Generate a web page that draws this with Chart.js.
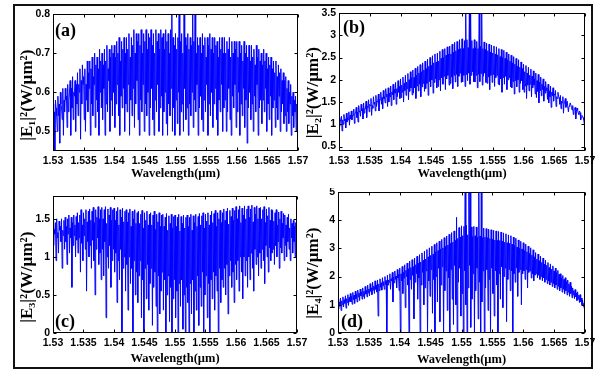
<!DOCTYPE html>
<html>
<head>
<meta charset="utf-8">
<script src="https://cdn.jsdelivr.net/npm/chart.js@4.4.1/dist/chart.umd.min.js"></script>
<style>
  html, body { margin: 0; padding: 0; background: #fff; }
  body { width: 598px; height: 370px; position: relative; overflow: hidden; }
  #frame { position: absolute; left: 13px; top: 4px; width: 576px; height: 361px; border: 2px solid #111; }
  canvas { position: absolute; }
</style>
</head>
<body>
<div id="frame"></div>
<canvas id="pa" width="300" height="180" style="left:15px;top:6px"></canvas>
<canvas id="pb" width="297" height="180" style="left:301px;top:6px"></canvas>
<canvas id="pc" width="300" height="182" style="left:15px;top:188px"></canvas>
<canvas id="pd" width="297" height="182" style="left:301px;top:188px"></canvas>
<script>
// ── DATA ──────────────────────────────────────────────────────
// wavelength grid: a peak every 0.0002 um, a dip half way between
const X0 = 1.53, DX = 0.0001;

const xTicks  = [1.53, 1.535, 1.54, 1.545, 1.55, 1.555, 1.56, 1.565, 1.57];
const yTicksA = [0.5, 0.6, 0.7, 0.8];
const yTicksB = [0.5, 1, 1.5, 2, 2.5, 3, 3.5];
const yTicksC = [0, 0.5, 1, 1.5];
const yTicksD = [0, 1, 2, 3, 4, 5];

// (a) |E1|^2
const peaksA = [
  0.57,0.55,0.58,0.54,0.59,0.57,0.60,0.56,0.61,0.58,
  0.61,0.59,0.62,0.58,0.63,0.61,0.64,0.60,0.63,0.62,
  0.65,0.62,0.66,0.63,0.67,0.64,0.66,0.62,0.68,0.65,
  0.68,0.66,0.69,0.64,0.70,0.67,0.69,0.66,0.71,0.68,
  0.70,0.67,0.71,0.68,0.72,0.66,0.71,0.69,0.72,0.70,
  0.72,0.69,0.73,0.70,0.74,0.68,0.73,0.71,0.74,0.70,
  0.74,0.71,0.75,0.69,0.74,0.72,0.76,0.70,0.75,0.73,
  0.75,0.72,0.76,0.70,0.75,0.73,0.76,0.71,0.75,0.74,
  0.76,0.72,0.75,0.70,0.76,0.73,0.75,0.71,0.76,0.74,
  0.75,0.71,0.76,0.73,0.75,0.70,0.76,0.82,0.74,0.72,
  0.75,0.71,0.74,0.85,0.73,0.75,0.70,0.85,0.74,0.72,
  0.75,0.71,0.74,0.72,0.85,0.73,0.85,0.70,0.74,0.72,
  0.74,0.70,0.75,0.72,0.74,0.69,0.74,0.72,0.75,0.71,
  0.74,0.70,0.74,0.72,0.73,0.69,0.74,0.71,0.74,0.70,
  0.74,0.70,0.73,0.71,0.74,0.69,0.73,0.70,0.73,0.71,
  0.73,0.69,0.73,0.70,0.72,0.68,0.73,0.70,0.72,0.69,
  0.72,0.68,0.72,0.69,0.71,0.67,0.72,0.69,0.71,0.68,
  0.70,0.67,0.71,0.68,0.70,0.66,0.69,0.67,0.69,0.66,
  0.68,0.65,0.68,0.64,0.67,0.65,0.66,0.63,0.65,0.63,
  0.64,0.61,0.63,0.60,0.62,0.59,0.60,0.58,0.59,0.57
];
const dipsA = [
  0.52,0.45,0.56,0.50,0.54,0.47,0.57,0.53,0.49,0.55,
  0.58,0.51,0.55,0.60,0.49,0.56,0.53,0.59,0.50,0.57,
  0.54,0.60,0.48,0.57,0.62,0.53,0.50,0.58,0.55,0.61,
  0.49,0.57,0.54,0.62,0.51,0.58,0.55,0.49,0.60,0.56,
  0.53,0.61,0.49,0.57,0.55,0.63,0.50,0.58,0.54,0.60,
  0.51,0.57,0.62,0.54,0.49,0.59,0.56,0.61,0.50,0.57,
  0.55,0.62,0.49,0.58,0.54,0.61,0.51,0.57,0.63,0.53,
  0.49,0.58,0.55,0.62,0.50,0.57,0.54,0.60,0.49,0.56,
  0.61,0.53,0.49,0.58,0.55,0.62,0.50,0.56,0.59,0.49,
  0.55,0.60,0.52,0.49,0.57,0.54,0.61,0.50,0.56,0.49,
  0.58,0.52,0.60,0.49,0.55,0.57,0.50,0.61,0.53,0.56,
  0.49,0.57,0.54,0.60,0.51,0.58,0.55,0.62,0.49,0.56,
  0.59,0.53,0.50,0.58,0.55,0.62,0.49,0.57,0.54,0.60,
  0.51,0.57,0.61,0.53,0.49,0.58,0.55,0.62,0.50,0.56,
  0.58,0.50,0.55,0.61,0.53,0.49,0.59,0.56,0.62,0.51,
  0.55,0.60,0.49,0.57,0.54,0.61,0.51,0.58,0.47,0.56,
  0.60,0.53,0.57,0.50,0.59,0.55,0.62,0.49,0.56,0.58,
  0.52,0.58,0.55,0.61,0.50,0.57,0.53,0.59,0.49,0.56,
  0.58,0.51,0.56,0.53,0.59,0.50,0.55,0.57,0.52,0.54,
  0.50,0.55,0.52,0.57,0.49,0.54,0.51,0.55,0.50,0.53
];

// (b) |E2|^2
const peaksB = [
  1.15,1.05,1.18,1.10,1.22,1.12,1.25,1.15,1.28,1.20,
  1.30,1.20,1.34,1.25,1.38,1.28,1.42,1.30,1.45,1.35,
  1.48,1.36,1.52,1.40,1.55,1.45,1.58,1.42,1.62,1.50,
  1.65,1.52,1.68,1.55,1.72,1.60,1.76,1.62,1.80,1.68,
  1.82,1.70,1.86,1.72,1.90,1.78,1.94,1.80,1.98,1.85,
  2.02,1.88,2.06,1.92,2.10,1.95,2.14,2.00,2.18,2.05,
  2.22,2.05,2.26,2.10,2.30,2.15,2.34,2.18,2.38,2.22,
  2.42,2.25,2.46,2.30,2.50,2.32,2.54,2.38,2.58,2.40,
  2.60,2.42,2.64,2.48,2.68,2.50,2.70,2.55,2.74,2.58,
  2.76,2.58,2.80,2.62,2.84,2.65,2.86,2.68,2.90,2.70,
  2.92,2.70,2.88,3.60,2.90,2.72,3.60,3.60,2.88,2.70,
  2.90,2.72,2.86,2.70,3.60,2.75,3.60,2.70,2.85,2.68,
  2.82,2.65,2.80,2.62,2.78,2.60,2.76,2.58,2.74,2.56,
  2.70,2.52,2.68,2.50,2.66,2.48,2.62,2.45,2.58,2.42,
  2.55,2.38,2.52,2.35,2.48,2.30,2.45,2.28,2.40,2.25,
  2.35,2.18,2.32,2.15,2.28,2.10,2.24,2.08,2.20,2.02,
  2.15,1.98,2.12,1.95,2.06,1.90,2.02,1.85,1.96,1.82,
  1.90,1.75,1.86,1.72,1.82,1.68,1.76,1.62,1.72,1.60,
  1.65,1.52,1.62,1.48,1.58,1.45,1.52,1.40,1.48,1.38,
  1.42,1.32,1.38,1.28,1.32,1.22,1.26,1.15,1.18,1.10
];
const dipsB = [
  0.95,1.05,0.85,1.00,1.08,0.92,1.05,1.10,0.98,1.12,
  1.10,1.20,1.02,1.25,1.15,1.05,1.28,1.18,1.30,1.12,
  1.25,1.35,1.15,1.38,1.28,1.42,1.20,1.36,1.45,1.30,
  1.40,1.50,1.30,1.55,1.45,1.35,1.58,1.48,1.62,1.40,
  1.50,1.62,1.42,1.66,1.55,1.70,1.45,1.62,1.72,1.58,
  1.60,1.72,1.50,1.76,1.65,1.80,1.55,1.74,1.82,1.66,
  1.70,1.82,1.58,1.86,1.75,1.90,1.62,1.84,1.92,1.74,
  1.80,1.92,1.65,1.96,1.84,2.00,1.70,1.94,2.02,1.82,
  1.85,2.00,1.75,2.05,1.90,2.08,1.78,2.02,2.10,1.88,
  1.92,2.06,1.80,2.10,1.95,2.12,1.85,2.08,2.15,1.94,
  1.95,2.10,1.85,2.12,1.98,2.15,1.90,2.10,2.18,1.96,
  1.95,2.10,1.82,2.12,1.96,2.14,1.88,2.08,2.15,1.94,
  1.92,2.06,1.78,2.10,1.94,2.12,1.85,2.05,2.10,1.90,
  1.88,2.02,1.72,2.05,1.90,2.08,1.78,2.00,2.05,1.84,
  1.82,1.96,1.68,1.98,1.84,2.00,1.72,1.92,1.98,1.78,
  1.72,1.86,1.58,1.88,1.75,1.90,1.62,1.82,1.88,1.68,
  1.60,1.74,1.48,1.76,1.64,1.78,1.52,1.70,1.75,1.56,
  1.48,1.62,1.38,1.64,1.52,1.66,1.40,1.58,1.62,1.45,
  1.35,1.48,1.25,1.50,1.38,1.52,1.28,1.44,1.48,1.32,
  1.22,1.34,1.12,1.36,1.25,1.30,1.10,1.20,1.15,1.00
];

// (c) |E3|^2
const peaksC = [
  1.48,1.36,1.45,1.50,1.32,1.47,1.40,1.50,1.35,1.48,
  1.52,1.40,1.50,1.55,1.38,1.52,1.45,1.55,1.42,1.53,
  1.58,1.45,1.55,1.62,1.42,1.58,1.50,1.62,1.46,1.60,
  1.63,1.48,1.60,1.65,1.45,1.62,1.52,1.66,1.50,1.62,
  1.65,1.50,1.62,1.66,1.44,1.63,1.55,1.65,1.48,1.62,
  1.64,1.48,1.60,1.65,1.42,1.62,1.52,1.64,1.46,1.60,
  1.62,1.46,1.58,1.63,1.40,1.60,1.50,1.62,1.44,1.58,
  1.60,1.44,1.56,1.61,1.38,1.58,1.48,1.60,1.42,1.56,
  1.58,1.42,1.55,1.60,1.36,1.56,1.46,1.58,1.40,1.55,
  1.56,1.40,1.52,1.57,1.35,1.54,1.44,1.56,1.38,1.53,
  1.55,1.40,1.52,1.56,1.34,1.53,1.44,1.55,1.38,1.52,
  1.55,1.40,1.52,1.56,1.35,1.54,1.45,1.56,1.40,1.53,
  1.57,1.42,1.54,1.58,1.38,1.56,1.47,1.58,1.42,1.55,
  1.60,1.45,1.57,1.61,1.40,1.58,1.50,1.61,1.45,1.58,
  1.63,1.48,1.60,1.64,1.43,1.61,1.53,1.64,1.48,1.61,
  1.66,1.50,1.62,1.67,1.45,1.64,1.55,1.67,1.50,1.63,
  1.67,1.52,1.63,1.68,1.46,1.65,1.56,1.67,1.50,1.64,
  1.65,1.50,1.62,1.66,1.45,1.63,1.54,1.65,1.48,1.62,
  1.61,1.47,1.58,1.62,1.42,1.59,1.50,1.60,1.44,1.57,
  1.55,1.42,1.52,1.56,1.38,1.50,1.44,1.48,1.40,1.45
];
const dipsC = [
  1.15,1.30,0.95,1.25,1.05,1.35,1.20,0.85,1.28,1.10,
  1.20,0.90,1.30,1.05,1.25,0.60,1.15,1.28,1.00,1.22,
  1.05,1.25,0.80,1.18,0.95,1.28,1.10,0.55,1.20,1.00,
  1.15,0.85,1.22,0.95,0.50,1.10,1.25,0.90,1.05,0.70,
  1.10,0.75,1.20,0.20,1.00,0.85,1.15,0.60,0.95,1.10,
  0.80,1.05,0.40,0.95,0.70,1.10,0.00,0.85,1.00,0.55,
  0.90,0.30,1.00,0.65,0.85,0.00,0.95,0.50,0.80,0.40,
  0.75,0.95,0.20,0.70,0.00,0.85,0.45,0.90,0.30,0.65,
  0.85,0.10,0.60,0.80,0.35,0.00,0.75,0.25,0.55,0.80,
  0.30,0.70,0.00,0.50,0.75,0.15,0.60,0.00,0.45,0.70,
  0.20,0.55,0.00,0.65,0.35,0.70,0.05,0.50,0.00,0.60,
  0.40,0.00,0.65,0.25,0.70,0.00,0.55,0.30,0.75,0.10,
  0.60,0.35,0.80,0.00,0.50,0.75,0.20,0.65,0.00,0.70,
  0.45,0.80,0.30,0.75,0.55,0.00,0.85,0.40,0.70,0.60,
  0.85,0.50,0.90,0.25,0.75,0.95,0.60,0.80,0.40,0.90,
  0.70,0.95,0.55,1.00,0.80,0.45,1.00,0.75,0.95,0.60,
  1.00,0.70,1.05,0.85,0.55,1.10,0.90,1.00,0.75,1.05,
  0.85,1.10,0.95,0.65,1.15,1.00,0.80,1.12,0.95,1.05,
  1.10,0.90,1.15,1.00,1.20,0.85,1.12,1.05,1.25,0.95,
  1.15,1.00,1.20,1.10,0.95,1.25,1.05,1.20,1.00,1.10
];

// (d) |E4|^2
const peaksD = [
  1.20,1.10,1.24,1.14,1.28,1.18,1.32,1.22,1.36,1.26,
  1.40,1.30,1.44,1.34,1.48,1.38,1.52,1.42,1.56,1.46,
  1.60,1.48,1.65,1.52,1.70,1.56,1.75,1.60,1.80,1.66,
  1.85,1.70,1.88,1.74,1.92,1.78,1.96,1.82,2.00,1.86,
  2.05,1.88,2.10,1.92,2.15,1.98,2.20,2.02,2.25,2.08,
  2.30,2.10,2.36,2.15,2.42,2.22,2.48,2.28,2.55,2.32,
  2.60,2.35,2.66,2.42,2.72,2.48,2.78,2.52,2.84,2.58,
  2.90,2.62,2.96,2.70,3.02,2.75,3.08,2.80,3.14,2.88,
  3.20,2.92,3.26,2.98,3.32,3.02,3.38,3.08,3.44,3.12,
  3.50,3.18,3.56,3.22,3.62,3.28,4.10,3.35,3.74,3.40,
  3.80,3.45,3.78,5.20,3.82,3.48,5.20,5.20,3.76,3.42,
  3.78,3.45,3.76,3.40,5.20,3.44,5.20,3.38,3.72,3.40,
  3.70,3.38,3.68,3.35,3.66,3.32,3.64,3.30,3.62,3.28,
  3.60,3.28,3.58,3.25,3.55,3.22,3.52,3.20,3.48,3.18,
  3.45,3.15,3.40,3.10,3.36,3.05,3.30,3.00,3.25,2.98,
  3.20,2.92,3.15,2.88,3.08,2.82,3.02,2.76,2.95,2.70,
  2.85,2.62,2.80,2.56,2.72,2.50,2.66,2.44,2.58,2.40,
  2.50,2.32,2.45,2.26,2.38,2.20,2.30,2.14,2.22,2.08,
  2.10,1.96,2.04,1.90,1.96,1.82,1.88,1.74,1.80,1.66,
  1.60,1.50,1.54,1.42,1.46,1.34,1.36,1.24,1.18,1.05
];
const dipsD = [
  0.85,0.95,0.80,1.00,0.92,1.05,0.88,1.08,0.98,1.12,
  1.10,1.02,1.18,1.05,1.22,1.10,1.28,1.15,1.32,1.20,
  1.30,1.22,1.38,1.28,1.42,1.32,1.48,1.36,1.52,1.40,
  1.55,1.45,0.60,1.50,1.62,1.52,1.68,1.55,1.72,0.00,
  1.70,1.80,1.55,1.85,1.10,1.78,1.90,1.60,1.95,1.50,
  0.00,1.85,1.40,1.95,0.90,2.00,1.70,0.00,1.90,1.55,
  2.05,0.50,1.80,2.10,1.20,1.95,0.00,1.70,2.15,1.00,
  1.60,2.20,0.00,1.85,1.30,2.25,0.70,1.90,0.00,2.00,
  1.10,2.30,0.40,1.70,2.35,0.00,1.50,2.20,0.80,1.95,
  0.00,2.25,1.20,0.30,2.40,1.00,0.00,1.80,2.30,0.60,
  1.40,0.00,2.20,1.00,0.00,1.60,2.40,0.20,1.20,2.10,
  0.00,1.50,2.30,0.50,1.80,0.00,1.10,2.20,0.00,1.60,
  2.25,0.80,1.90,0.00,2.30,1.40,0.60,2.20,1.70,0.00,
  2.10,1.20,2.35,0.90,2.00,2.30,0.40,1.90,2.25,1.50,
  2.20,0.00,2.10,1.80,2.30,1.30,2.15,2.25,1.00,2.10,
  2.20,1.90,2.25,1.60,2.15,2.20,1.95,2.10,1.85,2.05,
  2.10,1.95,2.05,1.90,2.00,1.85,1.95,1.80,1.90,1.75,
  1.85,1.70,1.80,1.65,1.75,1.60,1.70,1.55,1.65,1.50,
  1.60,1.45,1.55,1.40,1.50,1.35,1.45,1.30,1.40,1.25,
  1.35,1.22,1.28,1.15,1.20,1.08,1.10,1.00,0.95,0.85
];

// ── HELPERS ───────────────────────────────────────────────────
const SERIF = '"Liberation Serif", "Times New Roman", serif';
const NARROW = '"Liberation Sans Narrow", "Liberation Sans", Arial, sans-serif';

function zigzag(peaks, dips) {
  const pts = [];
  peaks.forEach((p, i) => {
    pts.push({ x: X0 + 2 * i * DX, y: p });
    pts.push({ x: X0 + (2 * i + 1) * DX, y: dips[i] });
  });
  return pts;
}

// matlab-like box with inward ticks on all four sides + panel tag
const boxTicks = {
  id: 'boxTicks',
  afterDraw(chart, args, opts) {
    const { ctx, chartArea: a, scales: { x, y } } = chart;
    const L = Math.round(a.left) + 0.5, R = Math.round(a.right) - 0.5;
    const T = Math.round(a.top) + 0.5,  B = Math.round(a.bottom) - 0.5;
    ctx.save();
    ctx.strokeStyle = '#000';
    ctx.lineWidth = 1;
    ctx.strokeRect(L, T, R - L, B - T);
    ctx.beginPath();
    x.ticks.forEach(t => {
      const px = Math.round(x.getPixelForValue(t.value)) + 0.5;
      ctx.moveTo(px, B); ctx.lineTo(px, B - 3);
      ctx.moveTo(px, T); ctx.lineTo(px, T + 3);
    });
    y.ticks.forEach(t => {
      const py = Math.round(y.getPixelForValue(t.value)) + 0.5;
      ctx.moveTo(L, py); ctx.lineTo(L + 3, py);
      ctx.moveTo(R, py); ctx.lineTo(R - 3, py);
    });
    ctx.stroke();
    ctx.font = 'bold 18px ' + SERIF;
    ctx.fillStyle = '#000';
    ctx.textBaseline = 'middle';
    ctx.fillText(opts.tag, a.left + opts.dx, opts.atTop ? a.top + opts.dy : a.bottom - opts.dy);
    ctx.restore();
  }
};

function makePanel(id, cfg) {
  new Chart(document.getElementById(id), {
    type: 'line',
    data: {
      datasets: [{
        data: zigzag(cfg.peaks, cfg.dips),
        borderColor: '#0000ff',
        borderWidth: 1,
        pointRadius: 0,
        tension: 0,
      }],
    },
    options: {
      responsive: false,
      animation: false,
      events: [],
      layout: { padding: { top: cfg.padTop, right: cfg.padRight, left: 0, bottom: 0 } },
      plugins: {
        legend: { display: false },
        tooltip: { enabled: false },
        boxTicks: { tag: cfg.tag, dx: cfg.tagDx, dy: cfg.tagDy, atTop: cfg.tagTop },
      },
      scales: {
        x: {
          type: 'linear',
          min: 1.53, max: 1.57,
          afterBuildTicks: s => { s.ticks = xTicks.map(v => ({ value: v })); },
          afterFit: s => { s.height = cfg.xH; s.paddingLeft = 0; s.paddingRight = 0; },
          grid: { display: false, drawTicks: false },
          border: { display: false },
          ticks: {
            color: '#000', padding: 4, autoSkip: false, maxRotation: 0,
            font: { family: NARROW, size: 10.5, weight: 'bold' },
            callback: v => String(v),
          },
          title: {
            display: true, text: 'Wavelength(µm)', color: '#000',
            font: { family: SERIF, size: 12.5, weight: 'bold' },
            padding: { top: 0, bottom: cfg.xTitlePad },
          },
        },
        y: {
          min: cfg.yMin, max: cfg.yMax,
          afterBuildTicks: s => { s.ticks = cfg.yTicks.map(v => ({ value: v })); },
          afterFit: s => { s.width = cfg.yW; s.paddingTop = 0; s.paddingBottom = 0; },
          grid: { display: false, drawTicks: false },
          border: { display: false },
          ticks: {
            color: '#000', padding: 3,
            font: { family: NARROW, size: 10.5, weight: 'bold' },
            callback: v => String(v),
          },
          title: {
            display: true, text: cfg.yTitle, color: '#000',
            font: { family: SERIF, size: 17, weight: 'bold' },
            padding: { top: cfg.yTitlePad, bottom: 0 },
          },
        },
      },
    },
    plugins: [boxTicks],
  });
}

// ── PANELS ────────────────────────────────────────────────────
makePanel('pa', {
  peaks: peaksA, dips: dipsA, yTicks: yTicksA, yMin: 0.45, yMax: 0.8,
  yTitle: '|E₁|²(W/µm²)      ', tag: '(a)', tagDx: 2, tagDy: 17, tagTop: true,
  padTop: 8, padRight: 17, yW: 38, xH: 35, xTitlePad: 5, yTitlePad: 2,
});
makePanel('pb', {
  peaks: peaksB, dips: dipsB, yTicks: yTicksB, yMin: 0.4, yMax: 3.5,
  yTitle: '|E₂|²(W/µm²)     ', tag: '(b)', tagDx: 4, tagDy: 15, tagTop: true,
  padTop: 7, padRight: 13, yW: 38, xH: 35, xTitlePad: 5, yTitlePad: 2,
});
makePanel('pc', {
  peaks: peaksC, dips: dipsC, yTicks: yTicksC, yMin: 0, yMax: 1.8,
  yTitle: '|E₃|²(W/µm²)      ', tag: '(c)', tagDx: 2, tagDy: 11, tagTop: false,
  padTop: 8, padRight: 18, yW: 38, xH: 37, xTitlePad: 4, yTitlePad: 2,
});
makePanel('pd', {
  peaks: peaksD, dips: dipsD, yTicks: yTicksD, yMin: 0, yMax: 5,
  yTitle: '|E₄|²(W/µm²)     ', tag: '(d)', tagDx: 3, tagDy: 11, tagTop: false,
  padTop: 4, padRight: 13, yW: 37, xH: 37, xTitlePad: 3, yTitlePad: 2,
});
</script>
</body>
</html>
